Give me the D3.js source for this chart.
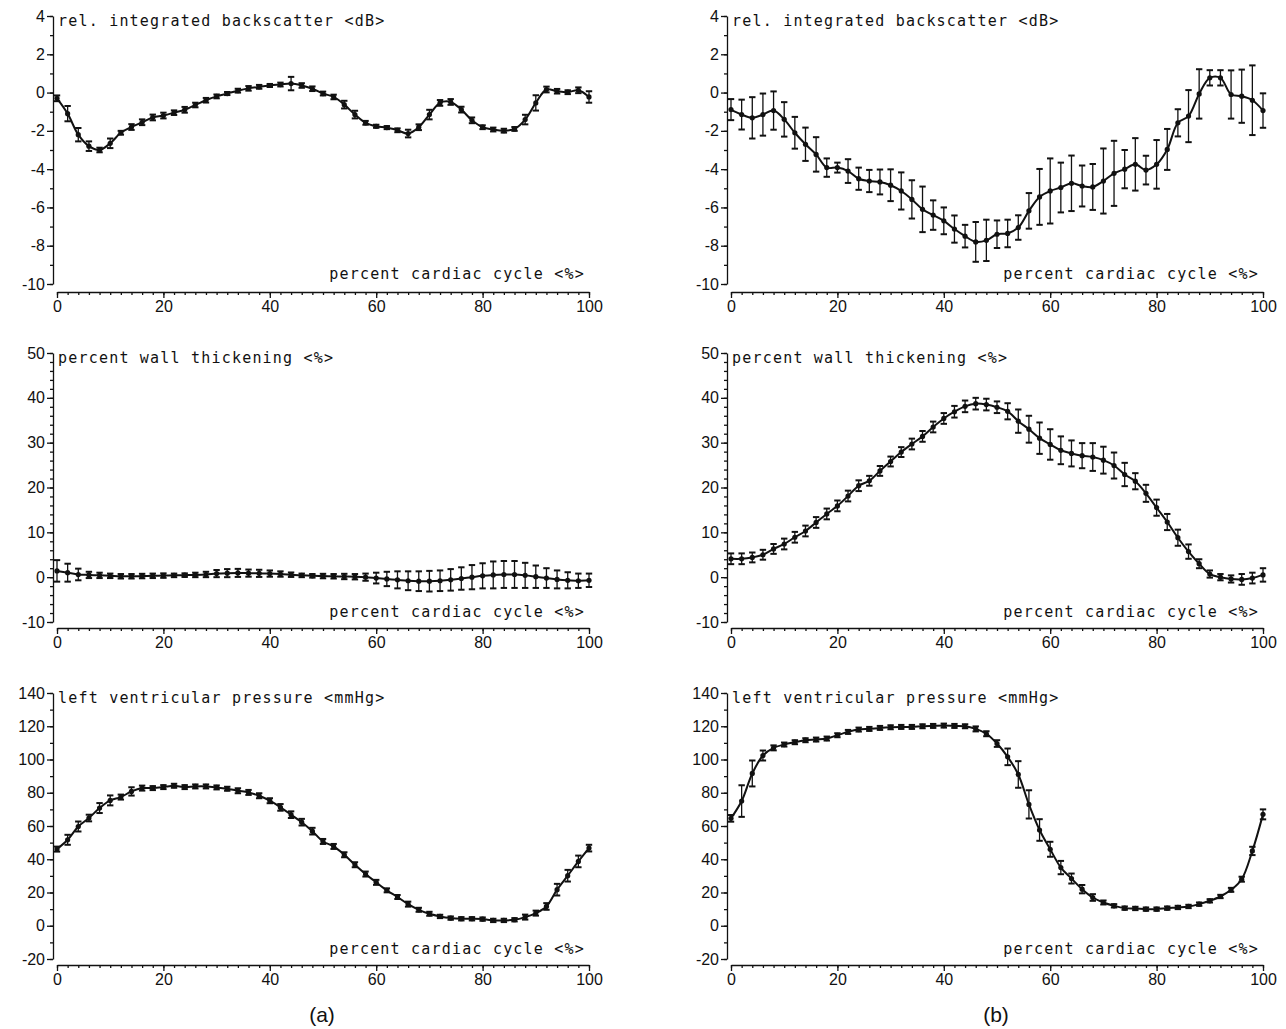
<!DOCTYPE html>
<html>
<head>
<meta charset="utf-8">
<script src="https://cdn.jsdelivr.net/npm/d3@7"></script>
<style>
  body { margin: 0; background: #fff; }
  svg { display: block; }
  .tick text { font-family: "Liberation Sans", Arial, sans-serif; font-size: 16px; fill: #111; }
  .domain, .tick line { stroke: #111; stroke-width: 1.3; }
  .ttl { font-family: "DejaVu Sans Mono", monospace; font-size: 15px; letter-spacing: 1.2px; fill: #111; }
  .cap { font-family: "Liberation Sans", Arial, sans-serif; font-size: 21px; fill: #111; }
</style>
</head>
<body>
<div id="chart"></div>
<script>
// x positions: percent cardiac cycle, every 2 %
var pct = d3.range(0, 101, 2);
var xTicks = [0, 20, 40, 60, 80, 100];

// rel. integrated backscatter <dB>
var ibsTicks = [-10, -8, -6, -4, -2, 0, 2, 4];
var ibsA = [-0.3, -1.1, -2.2, -2.8, -3.0, -2.65, -2.1, -1.8, -1.55, -1.3, -1.2, -1.05, -0.9, -0.65, -0.4, -0.2,
  -0.05, 0.1, 0.22, 0.3, 0.37, 0.42, 0.47, 0.37, 0.2, -0.05, -0.23, -0.63, -1.15, -1.58, -1.76, -1.83, -1.97,
  -2.14, -1.81, -1.15, -0.54, -0.49, -0.89, -1.45, -1.81, -1.93, -1.99, -1.9, -1.41, -0.54, 0.16, 0.07, 0.02, 0.12, -0.23];
var ibsAErr = [0.15, 0.4, 0.35, 0.25, 0.12, 0.25, 0.1, 0.15, 0.15, 0.15, 0.15, 0.12, 0.15, 0.12, 0.12, 0.1,
  0.08, 0.1, 0.12, 0.1, 0.08, 0.1, 0.35, 0.12, 0.12, 0.1, 0.12, 0.2, 0.2, 0.1, 0.08, 0.08, 0.1,
  0.2, 0.15, 0.25, 0.15, 0.15, 0.15, 0.15, 0.1, 0.1, 0.1, 0.1, 0.25, 0.4, 0.15, 0.12, 0.1, 0.15, 0.3];
var ibsB = [-0.89, -1.15, -1.32, -1.15, -0.94, -1.4, -2.1, -2.7, -3.23, -3.92, -3.92, -4.1, -4.5, -4.62, -4.67, -4.84,
  -5.14, -5.58, -6.1, -6.4, -6.7, -7.13, -7.5, -7.8, -7.72, -7.4, -7.36, -7.05, -6.18, -5.45, -5.14, -4.96, -4.74,
  -4.88, -4.93, -4.62, -4.22, -4.0, -3.75, -4.05, -3.75, -2.97, -1.58, -1.23, -0.07, 0.77, 0.77, -0.1, -0.19, -0.4, -0.94];
var ibsBErr = [0.55, 0.78, 1.08, 1.1, 1.0, 0.9, 0.83, 0.87, 0.9, 0.48, 0.26, 0.62, 0.58, 0.58, 0.65, 0.83,
  0.97, 1.0, 1.19, 0.77, 0.7, 0.71, 0.59, 1.04, 1.08, 0.72, 0.72, 0.64, 0.93, 1.46, 1.7, 1.3, 1.45,
  1.07, 1.2, 1.7, 1.7, 1.0, 1.37, 0.75, 1.27, 1.07, 0.71, 1.36, 1.29, 0.4, 0.4, 1.26, 1.39, 1.82, 0.9];

// percent wall thickening <%>
var wtTicks = [-10, 0, 10, 20, 30, 40, 50];
var wtA = [1.4, 1.0, 0.6, 0.5, 0.4, 0.3, 0.2, 0.2, 0.25, 0.3, 0.35, 0.4, 0.45, 0.5, 0.6, 0.8,
  0.9, 0.95, 0.9, 0.85, 0.8, 0.7, 0.55, 0.4, 0.3, 0.25, 0.2, 0.15, 0.1, 0.0, -0.2, -0.4, -0.6,
  -0.8, -0.9, -0.9, -0.8, -0.6, -0.3, 0.0, 0.3, 0.5, 0.6, 0.6, 0.4, 0.1, -0.2, -0.5, -0.7, -0.8, -0.7];
var wtAErr = [2.4, 2.0, 1.3, 0.7, 0.6, 0.5, 0.5, 0.5, 0.5, 0.5, 0.5, 0.4, 0.4, 0.5, 0.6, 0.8,
  0.9, 0.9, 0.8, 0.8, 0.7, 0.6, 0.5, 0.4, 0.4, 0.5, 0.5, 0.6, 0.6, 0.8, 1.2, 1.6, 1.9,
  2.1, 2.2, 2.3, 2.3, 2.4, 2.5, 2.7, 2.8, 3.0, 3.0, 3.0, 2.8, 2.5, 2.2, 2.0, 1.8, 1.6, 1.5];
var wtB = [4.1, 4.1, 4.4, 5.0, 6.3, 7.4, 8.9, 10.3, 12.2, 14.1, 15.9, 18.1, 20.4, 21.5, 23.7, 25.8,
  27.9, 29.7, 31.4, 33.5, 35.4, 36.9, 38.1, 38.7, 38.5, 37.9, 37.0, 34.8, 33.0, 31.0, 29.6, 28.3, 27.6,
  27.1, 26.8, 26.1, 24.9, 22.9, 21.4, 18.7, 15.5, 12.3, 8.8, 5.7, 3.0, 0.7, 0.0, -0.4, -0.5, -0.2, 0.5];
var wtBErr = [1.2, 1.2, 1.1, 1.1, 1.1, 1.2, 1.2, 1.2, 1.2, 1.2, 1.2, 1.2, 1.2, 1.1, 1.1, 1.1,
  1.1, 1.2, 1.2, 1.2, 1.2, 1.3, 1.3, 1.3, 1.3, 1.3, 1.8, 2.6, 3.0, 3.5, 3.4, 3.1, 2.9,
  2.8, 3.1, 3.0, 2.9, 2.6, 1.8, 1.9, 1.8, 1.8, 1.8, 1.6, 1.0, 0.8, 0.7, 0.8, 1.2, 1.2, 1.5];

// left ventricular pressure <mmHg>
var lvpTicks = [-20, 0, 20, 40, 60, 80, 100, 120, 140];
var lvpA = [46.1, 51.7, 59.7, 64.8, 70.8, 75.4, 77.4, 80.8, 82.8, 82.8, 83.4, 84.2, 83.4, 83.8, 83.8, 83.2,
  82.4, 81.2, 80.2, 78.2, 75.2, 71.2, 66.8, 62.3, 56.9, 50.7, 47.7, 42.7, 36.7, 31.1, 26.1, 21.3, 17.3,
  13.0, 9.6, 7.2, 5.6, 4.6, 4.2, 4.2, 4.0, 3.2, 3.2, 3.6, 5.2, 7.6, 11.6, 21.7, 30.1, 38.7, 46.7];
var lvpAErr = [1.5, 3, 3, 2, 3, 3, 1.5, 2.5, 1.5, 1.2, 1.2, 1.2, 1.2, 1.2, 1.2, 1.2,
  1.2, 1.5, 1.5, 1.5, 1.5, 2, 2, 2, 2, 1.5, 1.5, 1.5, 1.5, 1.5, 1.5, 1.2, 1.2,
  1.5, 1.2, 1.2, 1, 1, 1, 1, 1, 1, 1, 1, 1.5, 1.5, 2, 3.5, 3.5, 3.5, 2];
var lvpB = [64.6, 75.0, 91.6, 102.4, 107.0, 109.0, 110.4, 111.6, 112.0, 112.6, 114.6, 116.6, 118.0, 118.4, 119.0, 119.4,
  119.6, 119.6, 120.0, 120.2, 120.4, 120.2, 120.0, 118.4, 115.5, 109.6, 101.6, 91.0, 73.0, 57.6, 46.0, 35.0, 28.4,
  22.0, 17.0, 14.0, 12.0, 10.6, 10.4, 10.0, 10.0, 10.6, 11.0, 11.6, 13.0, 15.0, 17.6, 21.6, 28.0, 45.0, 67.0];
var lvpBErr = [2, 9.5, 7.8, 3, 1.5, 1.2, 1.2, 1.2, 1.2, 1.2, 1.2, 1.2, 1.2, 1.2, 1.2, 1.2,
  1.2, 1.2, 1.2, 1.2, 1.2, 1.2, 1.2, 1.5, 1.5, 2, 5, 8, 8.5, 6.5, 4.5, 4, 3,
  2.5, 2, 1.2, 1, 1, 1, 1, 1, 1, 1, 1, 1, 1, 1, 1.2, 1.5, 2.5, 3];

var xTitle = "percent cardiac cycle <%>";

// layout of the 2 x 3 grid
var cols = [{ x0: 57, x1: 589, tag: "(a)" }, { x0: 731, x1: 1263, tag: "(b)" }];
var rows = [
  { top: 16, bot: 284, axisY: 292, dom: [-10, 4], ticks: ibsTicks, minor: 1, title: "rel. integrated backscatter <dB>" },
  { top: 353, bot: 622, axisY: 628, dom: [-10, 50], ticks: wtTicks, minor: 2, title: "percent wall thickening <%>" },
  { top: 693, bot: 959, axisY: 965, dom: [-20, 140], ticks: lvpTicks, minor: 10, title: "left ventricular pressure <mmHg>" }
];
var series = [
  [[ibsA, ibsAErr], [ibsB, ibsBErr]],
  [[wtA, wtAErr], [wtB, wtBErr]],
  [[lvpA, lvpAErr], [lvpB, lvpBErr]]
];

var svg = d3.select("#chart").append("svg")
  .attr("width", 1286)
  .attr("height", 1029);

rows.forEach(function(row, r) {
  cols.forEach(function(col, c) {
    var vals = series[r][c][0], errs = series[r][c][1];
    var x = d3.scaleLinear().domain([0, 100]).range([col.x0, col.x1]);
    var y = d3.scaleLinear().domain(row.dom).range([row.bot, row.top]);
    var g = svg.append("g");
    var ax = col.x0 - 4;

    // y axis, minor then major ticks
    g.append("g")
      .attr("transform", "translate(" + ax + ",0)")
      .call(d3.axisLeft(y).tickValues(d3.range(row.dom[0], row.dom[1] + 0.001, row.minor))
        .tickSize(3).tickSizeOuter(0).tickFormat(""));
    g.append("g")
      .attr("transform", "translate(" + ax + ",0)")
      .call(d3.axisLeft(y).tickValues(row.ticks).tickSize(6).tickSizeOuter(0).tickPadding(2)
        .tickFormat(function(d) { return String(d); }))
      .select(".domain").remove();

    // x axis
    g.append("g")
      .attr("transform", "translate(0," + row.axisY + ")")
      .call(d3.axisBottom(x).tickValues(pct).tickSize(3).tickSizeOuter(0).tickFormat(""));
    g.append("g")
      .attr("transform", "translate(0," + row.axisY + ")")
      .call(d3.axisBottom(x).tickValues(xTicks).tickSize(6).tickSizeOuter(0).tickPadding(3))
      .select(".domain").remove();

    g.append("text").attr("class", "ttl")
      .attr("x", col.x0 + 1).attr("y", row.top + 10)
      .text(row.title);
    g.append("text").attr("class", "ttl")
      .attr("x", col.x1 - 4).attr("y", row.bot - 5)
      .attr("text-anchor", "end")
      .text(xTitle);

    var pts = pct.map(function(p, i) { return { p: p, v: vals[i], e: errs[i] }; });

    // error bars
    var eb = g.selectAll(".eb").data(pts).enter().append("g");
    eb.append("line")
      .attr("x1", function(d) { return x(d.p); }).attr("x2", function(d) { return x(d.p); })
      .attr("y1", function(d) { return y(d.v - d.e); }).attr("y2", function(d) { return y(d.v + d.e); })
      .attr("stroke", "#111").attr("stroke-width", 1.3);
    [-1, 1].forEach(function(s) {
      eb.append("line")
        .attr("x1", function(d) { return x(d.p) - 3.2; }).attr("x2", function(d) { return x(d.p) + 3.2; })
        .attr("y1", function(d) { return y(d.v + s * d.e); }).attr("y2", function(d) { return y(d.v + s * d.e); })
        .attr("stroke", "#111").attr("stroke-width", 2);
    });

    var line = d3.line()
      .x(function(d) { return x(d.p); })
      .y(function(d) { return y(d.v); })
      .curve(d3.curveCatmullRom);
    g.append("path").datum(pts)
      .attr("d", line)
      .attr("fill", "none").attr("stroke", "#111").attr("stroke-width", 2);

    g.selectAll(".pt").data(pts).enter().append("circle")
      .attr("cx", function(d) { return x(d.p); })
      .attr("cy", function(d) { return y(d.v); })
      .attr("r", 2.6).attr("fill", "#111");

    if (r === rows.length - 1) {
      g.append("text").attr("class", "cap")
        .attr("x", (col.x0 + col.x1) / 2 - 1).attr("y", 1022)
        .attr("text-anchor", "middle")
        .text(col.tag);
    }
  });
});
</script>
</body>
</html>
